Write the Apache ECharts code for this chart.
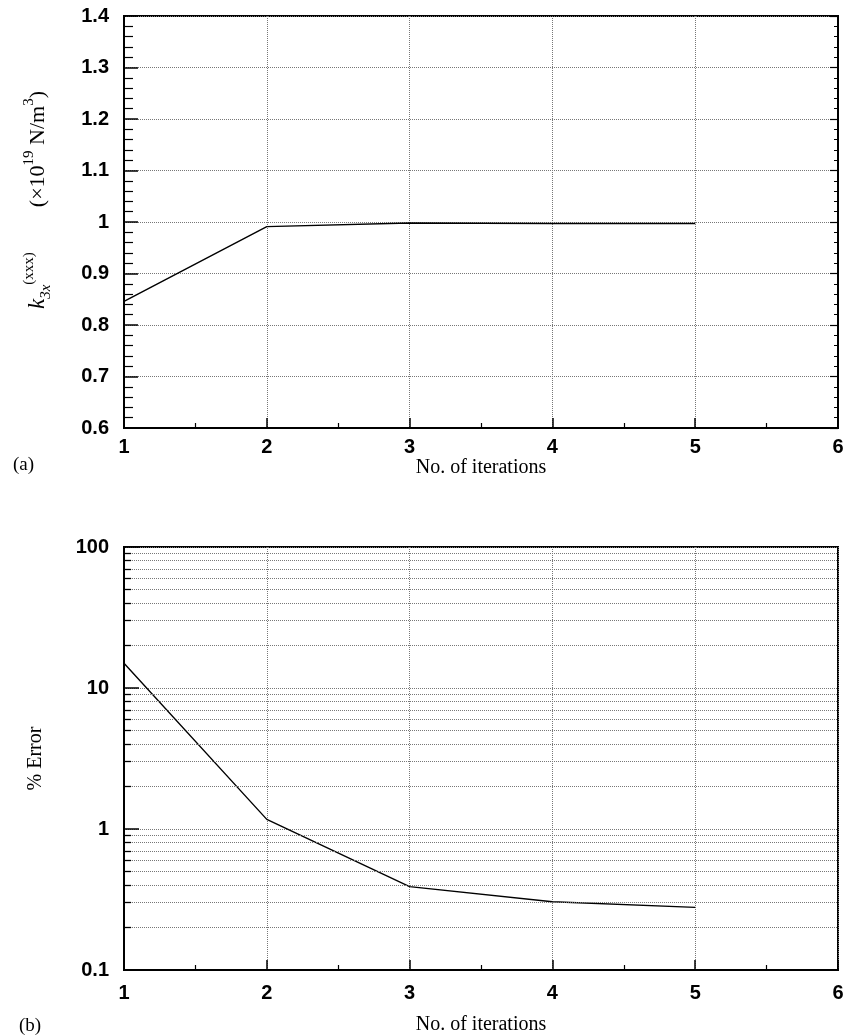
<!DOCTYPE html>
<html>
<head>
<meta charset="utf-8">
<script src="https://cdn.jsdelivr.net/npm/echarts@6/dist/echarts.min.js"></script>
<style>
  html, body { margin: 0; padding: 0; background: #fff; }
  #chart { width: 849px; height: 1036px; }
</style>
</head>
<body>
<div id="chart"></div>
<script>
// values
var iterations = [1, 2, 3, 4, 5];
var stiffness = [0.846, 0.991, 0.998, 0.997, 0.997];   // x10^19 N/m^3
var errorPct = [15.0, 1.17, 0.39, 0.305, 0.278];      // %
var logMinor = [0.2, 0.3, 0.4, 0.5, 0.6, 0.7, 0.8, 0.9,
                2, 3, 4, 5, 6, 7, 8, 9,
                20, 30, 40, 50, 60, 70, 80, 90];

var serif = '"Liberation Serif", "DejaVu Serif", serif';
var sans = '"Liberation Sans", Arial, sans-serif';
var gridLine = { color: '#777', type: 'dotted', width: 1 };

function pairs(xs, ys) {
    var out = [];
    for (var i = 0; i < xs.length; i++) {
        out.push([xs[i], ys[i]]);
    }
    return out;
}

function xAxisFor(idx, margin, gap) {
    return {
        type: 'value',
        gridIndex: idx,
        min: 1,
        max: 6,
        interval: 1,
        name: 'No. of iterations',
        nameLocation: 'middle',
        nameGap: gap,
        nameTextStyle: { fontFamily: serif, fontSize: 20, color: '#000' },
        axisLine: { lineStyle: { color: '#000', width: 2 } },
        axisTick: { inside: true, length: 10, lineStyle: { color: '#000', width: 1.5 } },
        minorTick: { show: true, splitNumber: 2, length: 5, lineStyle: { color: '#000', width: 1.2 } },
        axisLabel: { fontFamily: sans, fontSize: 20, fontWeight: 'bold', color: '#000', margin: margin },
        splitLine: { show: true, lineStyle: gridLine }
    };
}

var option = {
    animation: false,
    backgroundColor: '#fff',
    title: [
        { text: '(a)', left: 8, top: 451, textStyle: { fontFamily: serif, fontSize: 19, fontWeight: 'normal', color: '#000' } },
        { text: '(b)', left: 14, top: 1012, textStyle: { fontFamily: serif, fontSize: 19, fontWeight: 'normal', color: '#000' } }
    ],
    grid: [
        { left: 124, right: 11, top: 16, height: 412, show: true, borderColor: '#000', borderWidth: 2 },
        { left: 124, right: 11, top: 547, height: 424, show: true, borderColor: '#000', borderWidth: 2 }
    ],
    xAxis: [xAxisFor(0, 9, 26), xAxisFor(1, 13, 45)],
    yAxis: [
        {
            type: 'value',
            gridIndex: 0,
            min: 0.6,
            max: 1.4,
            interval: 0.1,
            name: '{k|k}{sub|3x}{sup|(xxx)}               {t|(×10}{sup|19}{t| N/m}{sup|3}{t|)}',
            nameLocation: 'middle',
            nameGap: 70,
            nameTextStyle: {
                fontFamily: serif,
                color: '#000',
                padding: [0, 0, 0, 44],
                rich: {
                    k: { fontFamily: serif, fontStyle: 'italic', fontSize: 23, lineHeight: 32, color: '#000' },
                    sub: { fontFamily: serif, fontStyle: 'italic', fontSize: 15, lineHeight: 32, verticalAlign: 'bottom', color: '#000' },
                    sup: { fontFamily: serif, fontSize: 15, lineHeight: 32, verticalAlign: 'top', color: '#000' },
                    t: { fontFamily: serif, fontSize: 22, lineHeight: 32, color: '#000' }
                }
            },
            axisLine: { show: true, lineStyle: { color: '#000', width: 2 } },
            axisTick: { inside: true, length: 14, lineStyle: { color: '#000', width: 1.5 } },
            minorTick: { show: true, splitNumber: 5, length: 9, lineStyle: { color: '#000', width: 1.2 } },
            axisLabel: { fontFamily: sans, fontSize: 20, fontWeight: 'bold', color: '#000', margin: 15 },
            splitLine: { show: true, lineStyle: gridLine }
        },
        {
            type: 'value',
            gridIndex: 0,
            position: 'right',
            min: 0.6,
            max: 1.4,
            interval: 0.1,
            axisLine: { show: true, lineStyle: { color: '#000', width: 2 } },
            axisTick: { inside: true, length: 8, lineStyle: { color: '#000', width: 1.2 } },
            minorTick: { show: true, splitNumber: 5, length: 4, lineStyle: { color: '#000', width: 1 } },
            axisLabel: { show: false },
            splitLine: { show: false }
        },
        {
            type: 'log',
            logBase: 10,
            gridIndex: 1,
            min: 0.1,
            max: 100,
            name: '% Error',
            nameLocation: 'middle',
            nameGap: 78,
            nameTextStyle: { fontFamily: serif, fontSize: 20, color: '#000' },
            axisLine: { show: true, lineStyle: { color: '#000', width: 2 } },
            axisTick: { inside: true, length: 15, lineStyle: { color: '#000', width: 1.5 } },
            axisLabel: { fontFamily: sans, fontSize: 20, fontWeight: 'bold', color: '#000', margin: 15 },
            splitLine: { show: true, lineStyle: gridLine }
        }
    ],
    series: [
        {
            name: 'k3x',
            type: 'line',
            xAxisIndex: 0,
            yAxisIndex: 0,
            symbol: 'none',
            lineStyle: { color: '#000', width: 1.4 },
            data: pairs(iterations, stiffness)
        },
        {
            name: 'error',
            type: 'line',
            xAxisIndex: 1,
            yAxisIndex: 2,
            symbol: 'none',
            lineStyle: { color: '#000', width: 1.4 },
            data: pairs(iterations, errorPct),
            markLine: {
                silent: true,
                symbol: ['none', 'none'],
                label: { show: false },
                lineStyle: gridLine,
                data: logMinor.map(function (v) { return { yAxis: v }; })
            }
        },
        {
            name: 'minor ticks',
            type: 'line',
            xAxisIndex: 1,
            yAxisIndex: 2,
            symbol: 'none',
            data: [],
            markLine: {
                silent: true,
                symbol: ['none', 'none'],
                label: { show: false },
                lineStyle: { color: '#000', type: 'solid', width: 1.3 },
                data: logMinor.map(function (v) { return [{ coord: [1, v] }, { coord: [1.05, v] }]; })
            }
        }
    ]
};

var chart = echarts.init(document.getElementById('chart'));
chart.setOption(option);
</script>
</body>
</html>
